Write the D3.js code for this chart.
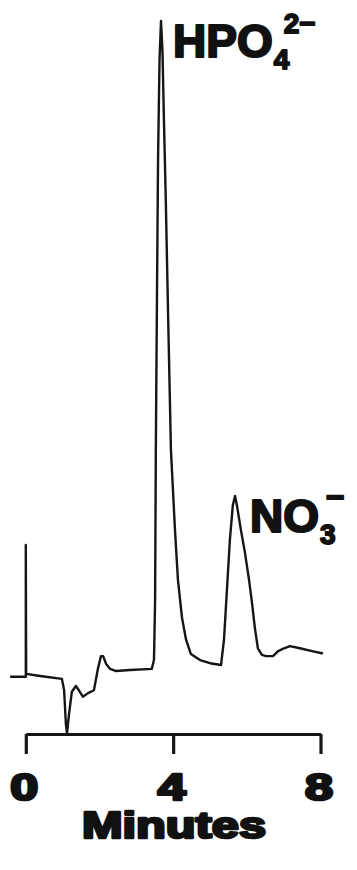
<!DOCTYPE html>
<html>
<head>
<meta charset="utf-8">
<script src="https://cdn.jsdelivr.net/npm/d3@7/dist/d3.min.js"></script>
<style>
  html, body { margin: 0; padding: 0; background: #ffffff; }
  svg { display: block; }
  .lbl { font-family: "Liberation Sans", Arial, sans-serif; font-weight: bold; fill: #111; stroke: #111; stroke-linejoin: round; paint-order: stroke; }
</style>
</head>
<body>
<svg id="chart" width="357" height="870"></svg>
<script>
// Ion chromatogram: detector response (arbitrary units) vs retention time (minutes)
const timeMin = [
  -0.40, -0.02, 0.00, 0.00, 0.01, 0.39, 0.98, 1.04, 1.09, 1.12, 1.17, 1.25, 1.36, 1.44,
  1.55, 1.69, 1.85, 1.96, 2.04, 2.10, 2.18, 2.29, 2.45, 2.83, 3.42, 3.48, 3.51, 3.53,
  3.56, 3.59, 3.63, 3.67, 3.71, 3.75, 3.80, 3.86, 3.94, 4.05, 4.13, 4.24, 4.35, 4.48,
  4.73, 5.00, 5.30, 5.38, 5.46, 5.54, 5.62, 5.68, 5.73, 5.84, 5.95, 6.06, 6.14, 6.22,
  6.30, 6.41, 6.52, 6.71, 6.85, 7.01, 7.17, 7.44, 7.77, 8.04
];
const response = [
  7.9, 7.9, 7.9, 26.4, 8.3, 8.0, 7.6, 6.0, 1.1, 0.0, 2.5, 5.8, 6.6, 6.0,
  5.1, 5.6, 6.0, 9.1, 10.8, 10.8, 9.7, 9.0, 8.7, 8.85, 9.0, 10.3, 18.7, 39.8,
  60.8, 80.5, 94.5, 100.0, 95.9, 86.1, 74.9, 59.4, 39.7, 28.5, 21.5, 16.2, 13.1, 11.1,
  10.25, 9.8, 9.55, 13.1, 20.1, 27.1, 32.0, 33.3, 32.0, 28.5, 25.3, 21.5, 18.3, 14.7,
  11.9, 10.96, 10.8, 10.8, 11.5, 11.9, 12.2, 11.9, 11.5, 11.2
];
const tickValues = [0, 4, 8];
const tickLabels = ["0", "4", "8"];
const axisTitle = "Minutes";
const peakNames = [
  { base: "HPO", sub: "4", sup: "2\u2212", t: 3.67, r: 100.0 },
  { base: "NO", sub: "3", sup: "\u2212", t: 5.68, r: 33.3 }
];

const svg = d3.select("#chart");
const x = d3.scaleLinear().domain([0, 8]).range([25.8, 320.5]);
const y = d3.scaleLinear().domain([0, 100]).range([733, 21]);

const pts = timeMin.map((t, i) => [t, response[i]]);

// trace
svg.append("path")
  .datum(pts)
  .attr("fill", "none")
  .attr("stroke", "#151515")
  .attr("stroke-width", 2.4)
  .attr("stroke-linejoin", "round")
  .attr("stroke-linecap", "round")
  .attr("d", d3.line().x(d => x(d[0])).y(d => y(d[1])));

// time axis
const axis = d3.axisBottom(x)
  .tickValues(tickValues)
  .tickSize(20)
  .tickSizeOuter(0)
  .tickFormat("");
const gAxis = svg.append("g").attr("transform", `translate(0,${y(0) + 1})`).call(axis);
gAxis.select(".domain").attr("stroke", "#151515").attr("stroke-width", 3.2);
gAxis.selectAll(".tick line").attr("stroke", "#151515").attr("stroke-width", 3.2);

// tick labels
svg.selectAll("text.tickl")
  .data(tickValues)
  .join("text")
  .attr("class", "lbl tickl")
  .attr("x", d => x(d) - 1.5)
  .attr("y", 800)
  .attr("text-anchor", "middle")
  .attr("font-size", 36)
  .attr("stroke-width", 2.6)
  .attr("textLength", 28)
  .attr("lengthAdjust", "spacingAndGlyphs")
  .text((d, i) => tickLabels[i]);

// axis title
svg.append("text")
  .attr("class", "lbl")
  .attr("x", 82)
  .attr("y", 838)
  .attr("font-size", 36)
  .attr("stroke-width", 2.6)
  .attr("textLength", 184)
  .attr("lengthAdjust", "spacingAndGlyphs")
  .text(axisTitle);

// peak labels
peakNames.forEach(p => {
  const x0 = x(p.t) + 12;
  const yb = y(p.r) + 36;
  const g = svg.append("g");
  const base = g.append("text")
    .attr("class", "lbl")
    .attr("x", x0 + (p.sub === "3" ? 3 : 0))
    .attr("y", yb)
    .attr("font-size", 46)
    .attr("stroke-width", 2.2)
    .text(p.base);
  const w = base.node().getComputedTextLength() + (p.sub === "3" ? 3 : 0);
  g.append("text")
    .attr("class", "lbl")
    .attr("x", x0 + w + 1)
    .attr("y", yb + 12)
    .attr("font-size", 28)
    .attr("stroke-width", 1.8)
    .text(p.sub);
  g.append("text")
    .attr("class", "lbl")
    .attr("x", x0 + w + (p.sup.length > 1 ? 11 : 7))
    .attr("y", yb - 24)
    .attr("font-size", p.sup.length > 1 ? 28 : 32)
    .attr("stroke-width", 1.8)
    .text(p.sup);
});
</script>
</body>
</html>
